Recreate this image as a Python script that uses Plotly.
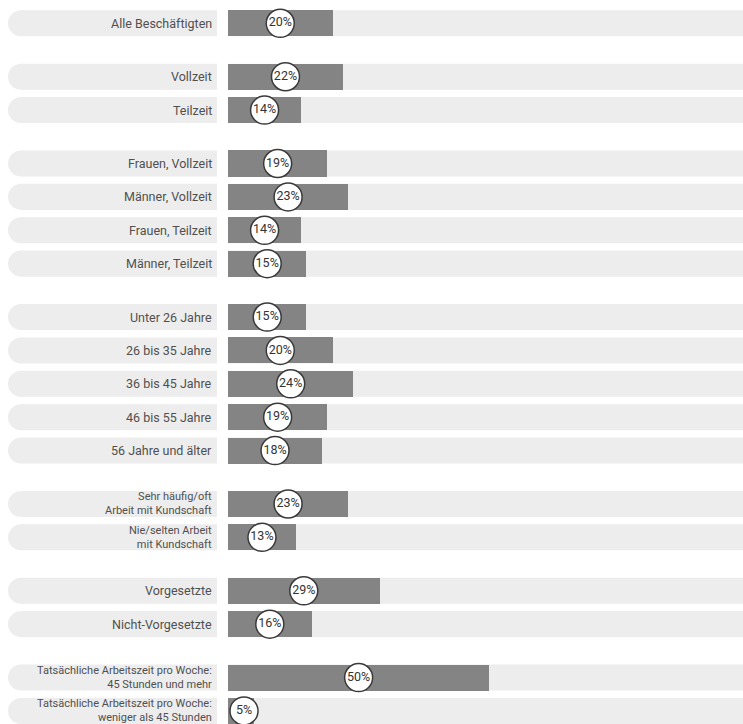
import plotly.graph_objects as go

# ---- data ----
labels = [
    "Alle Beschäftigten",
    "Vollzeit", "Teilzeit",
    "Frauen, Vollzeit", "Männer, Vollzeit", "Frauen, Teilzeit", "Männer, Teilzeit",
    "Unter 26 Jahre", "26 bis 35 Jahre", "36 bis 45 Jahre", "46 bis 55 Jahre", "56 Jahre und älter",
    "Sehr häufig/oft<br>Arbeit mit Kundschaft", "Nie/selten Arbeit<br>mit Kundschaft",
    "Vorgesetzte", "Nicht-Vorgesetzte",
    "Tatsächliche Arbeitszeit pro Woche:<br>45 Stunden und mehr",
    "Tatsächliche Arbeitszeit pro Woche:<br>weniger als 45 Stunden",
]
values = [20, 22, 14, 19, 23, 14, 15, 15, 20, 24, 19, 18, 23, 13, 29, 16, 50, 5]
group_sizes = [1, 2, 4, 5, 2, 2, 2]

# ---- layout geometry ----
W, H = 743, 724
PX_PER_UNIT_X = 5.225          # pixels per percentage point
X0_PX = 228                     # pixel where 0 % sits
ROW_PX = 33.38                  # pixels per row step
FIRST_ROW_PX = 23.3
GROUP_GAP = 1.6                 # row step between groups (in row units)
BAR_H = 0.78                    # bar thickness in row units
FONT = "Roboto"

# y positions computed from the group structure
ypos = []
cur = 0.0
for gi, n in enumerate(group_sizes):
    if gi > 0:
        cur += GROUP_GAP - 1
    for k in range(n):
        ypos.append(cur)
        cur += 1

xmin = -X0_PX / PX_PER_UNIT_X
xmax = (W - X0_PX) / PX_PER_UNIT_X
ytop = -FIRST_ROW_PX / ROW_PX
ybot = (H - FIRST_ROW_PX) / ROW_PX

track_col = "#ededed"
bar_col = "#848484"

shapes = []
rx = 13 / PX_PER_UNIT_X
pill_left = 8 / PX_PER_UNIT_X + xmin
pill_right = (217 - X0_PX) / PX_PER_UNIT_X
for y in ypos:
    shapes.append(dict(type="rect", xref="x", yref="y", x0=0, x1=110,
                       y0=y - BAR_H / 2, y1=y + BAR_H / 2,
                       fillcolor=track_col, line=dict(width=0), layer="below"))
    shapes.append(dict(type="circle", xref="x", yref="y", x0=pill_left, x1=pill_left + 2 * rx,
                       y0=y - BAR_H / 2, y1=y + BAR_H / 2,
                       fillcolor=track_col, line=dict(width=0), layer="below"))
    shapes.append(dict(type="rect", xref="x", yref="y", x0=pill_left + rx, x1=pill_right,
                       y0=y - BAR_H / 2, y1=y + BAR_H / 2,
                       fillcolor=track_col, line=dict(width=0), layer="below"))

fig = go.Figure()
fig.add_trace(go.Bar(
    x=values, y=ypos, orientation="h", base=0, width=BAR_H,
    marker=dict(color=bar_col, line=dict(width=0)), hoverinfo="skip", showlegend=False,
))

min_center = 16 / PX_PER_UNIT_X
cx = [max(v / 2, min_center) for v in values]
fig.add_trace(go.Scatter(
    x=cx, y=ypos, mode="markers+text",
    marker=dict(size=28, color="white", line=dict(color="#3a3a3a", width=1.5)),
    text=[f"{v}%" for v in values], textposition="middle center",
    textfont=dict(family=FONT, size=12.5, color="#333333"),
    hoverinfo="skip", showlegend=False,
))

annotations = []
label_x = (213 - X0_PX) / PX_PER_UNIT_X
for lab, y in zip(labels, ypos):
    multi = "<br>" in lab
    annotations.append(dict(
        x=label_x, y=y, xref="x", yref="y", text=lab, showarrow=False,
        xanchor="right", yanchor="middle", align="right",
        font=dict(family=FONT, size=11 if multi else 12.5, color="#505050"),
        borderpad=0,
    ))

fig.update_layout(
    width=W, height=H, margin=dict(l=0, r=0, t=0, b=0),
    paper_bgcolor="white", plot_bgcolor="white",
    xaxis=dict(range=[xmin, xmax], visible=False, fixedrange=True),
    yaxis=dict(range=[ybot, ytop], visible=False, fixedrange=True),
    shapes=shapes, annotations=annotations, bargap=0,
)

fig.write_html("out.html")
